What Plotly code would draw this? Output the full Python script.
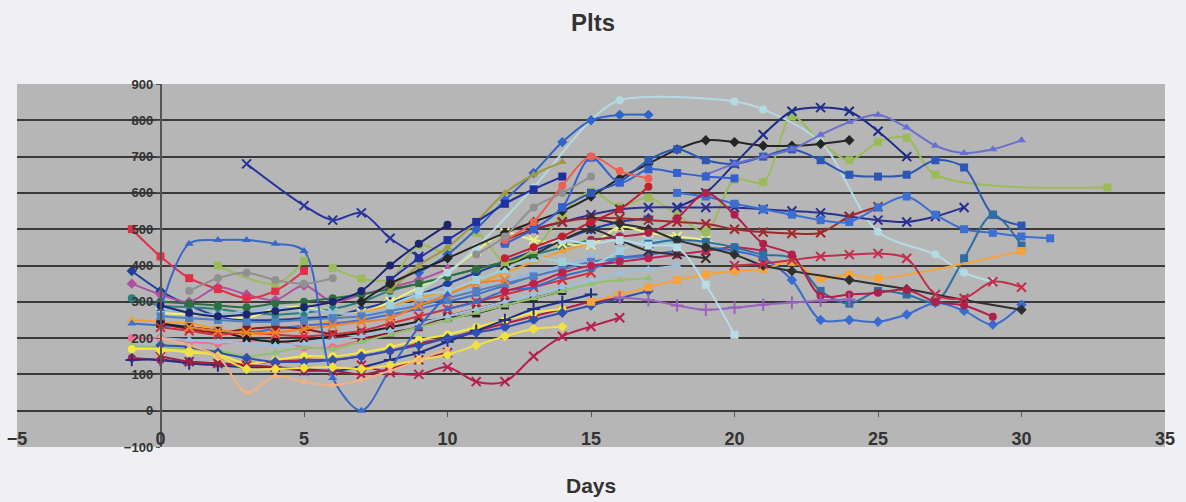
import plotly.graph_objects as go

# ---------------- data (day, platelet count) ----------------
# outlying / distinctive series
d01 = [3, 5, 6, 7, 8, 9]
v01 = [680, 565, 525, 545, 475, 425]
d02 = [-1, 0, 1, 2, 3, 4, 5]
v02 = [500, 425, 365, 335, 310, 330, 385]
d03 = [0, 1, 2, 3, 4, 5, 6, 7, 8, 9, 10]
v03 = [280, 460, 470, 470, 460, 440, 90, 0, 115, 230, 320]
d04 = [2, 4, 5]
v04 = [400, 350, 412]
d05 = [1, 2, 3, 4, 5, 6]
v05 = [330, 365, 380, 360, 350, 365]
d06 = [6, 7, 8, 9, 10, 11, 12, 13, 14, 15, 16, 17, 18, 19, 20, 21, 22, 23, 24, 25, 26, 27, 33]
v06 = [393, 364, 361, 457, 435, 490, 410, 443, 540, 604, 562, 587, 540, 493, 636, 630, 810, 740, 690, 740, 752, 650, 615]
d07 = [9, 10, 11, 13, 15, 16, 20, 21, 23, 25, 27, 28, 29]
v07 = [330, 380, 450, 615, 800, 855, 852, 830, 740, 493, 430, 380, 355]
d08 = [9, 10, 11, 12, 13, 14, 15, 16, 17]
v08 = [380, 430, 500, 580, 655, 740, 800, 815, 815]
d09 = [8, 9, 10, 11, 12, 13, 14]
v09 = [330, 400, 450, 520, 600, 650, 685]
d10 = [8, 9, 10, 11, 12, 13, 14]
v10 = [360, 420, 470, 520, 570, 610, 645]
d11 = [7, 8, 10, 12, 13, 14, 15, 16, 17, 18, 19, 20, 21, 22, 23, 24]
v11 = [300, 350, 420, 490, 520, 550, 590, 640, 680, 720, 745, 740, 730, 730, 735, 745]
d12 = [18, 19, 20, 21, 22, 23, 24, 25, 26]
v12 = [560, 600, 680, 760, 825, 835, 825, 770, 700]
d13 = [14, 15, 16, 17, 18, 19, 20, 21, 22, 23, 24, 25, 26, 27, 28, 29, 30]
v13 = [560, 600, 630, 690, 720, 690, 680, 700, 720, 690, 650, 645, 650, 690, 670, 540, 510]
d14 = [19, 20, 21, 22, 23, 24, 25, 26, 27, 28, 29, 30]
v14 = [650, 680, 700, 720, 760, 795, 815, 780, 730, 710, 720, 745]
d15 = [13, 14, 15, 16, 17, 18, 19, 20, 21, 22, 23, 24, 25, 26, 27, 28]
v15 = [500, 520, 540, 555, 560, 560, 560, 560, 555, 550, 545, 535, 525, 520, 535, 560]
d16 = [12, 13, 14, 15, 16, 17, 18, 19, 20, 21, 22, 23, 24, 25]
v16 = [470, 500, 520, 530, 530, 525, 520, 515, 500, 492, 488, 490, 535, 562]
d17 = [18, 19, 20, 21, 22, 23, 24, 25, 26, 27, 28, 29, 30, 31]
v17 = [600, 590, 570, 555, 540, 525, 520, 560, 590, 540, 500, 490, 480, 475]
d18 = [19, 20, 21, 22, 23, 24, 25, 26, 27, 28, 29, 30]
v18 = [450, 440, 420, 360, 250, 250, 245, 265, 297, 275, 237, 292]
d19 = [17, 18, 19, 20, 21, 22, 23, 24, 25, 26, 27, 28, 29, 30]
v19 = [460, 470, 465, 450, 430, 420, 330, 295, 330, 320, 300, 420, 540, 455]
d20 = [15, 16, 17, 18, 19, 20, 21, 22, 23, 24, 25, 30]
v20 = [300, 320, 340, 360, 375, 385, 390, 410, 365, 375, 365, 440]
d21 = [15, 16, 17, 18, 19, 20, 21, 22, 24, 26, 28, 30]
v21 = [530, 515, 500, 470, 450, 430, 400, 385, 360, 335, 305, 278]
d22 = [20, 21, 22, 23, 24, 25, 26, 27, 28, 29, 30]
v22 = [400, 405, 415, 425, 430, 433, 420, 320, 310, 355, 340]
d23 = [15, 16, 17, 18, 19, 20, 21, 22, 23, 24, 25, 26, 27, 28, 29]
v23 = [470, 480, 490, 530, 600, 540, 460, 430, 317, 320, 325, 333, 300, 290, 259]
d24 = [16, 17, 18, 19, 20, 21, 22, 23, 24]
v24 = [312, 305, 290, 278, 284, 292, 298, 303, 306]
d25 = [13, 14, 15, 16, 17, 18, 19, 20]
v25 = [450, 470, 460, 470, 455, 450, 347, 209]
d26 = [7, 8, 9, 10, 11, 12, 13, 14, 15, 16]
v26 = [125, 105, 100, 120, 80, 80, 150, 205, 232, 256]
d27 = [0, 1, 2, 3, 4, 5, 6, 7, 8, 9, 10, 11, 12, 13, 14]
v27 = [165, 165, 150, 115, 115, 118, 120, 115, 125, 140, 155, 180, 205, 225, 231]
d28 = [0, 1, 2, 3, 4, 5, 6, 7, 8, 9, 10]
v28 = [200, 180, 150, 50, 95, 80, 70, 85, 110, 140, 170]
d29 = [0, 1, 2, 3, 4, 5, 6, 7, 8, 9, 10]
v29 = [290, 270, 260, 265, 275, 285, 300, 330, 400, 460, 512]
d30 = [12, 13, 14, 15, 16, 17, 18, 19, 20]
v30 = [460, 500, 560, 697, 628, 665, 655, 645, 640]
d31 = [12, 13, 14, 15, 16, 17]
v31 = [470, 520, 620, 700, 660, 640]
d32 = [12, 13, 14, 15, 16, 17]
v32 = [420, 450, 480, 520, 555, 617]
d33 = [11, 12, 13, 14, 15]
v33 = [430, 480, 560, 600, 645]

# central band of series
b01_d = [-1, 0, 1, 2, 3, 4, 5, 6, 7, 8, 9, 10, 11, 12, 13, 14, 15, 16, 17]
b01_v = [385, 330, 290, 260, 250, 250, 255, 260, 280, 300, 320, 350, 380, 410, 440, 470, 500, 520, 530]
b02_d = [-1, 0, 1, 2, 3, 4, 5, 6, 7, 8, 9, 10]
b02_v = [350, 320, 300, 340, 320, 305, 345, 300, 320, 340, 360, 390]
b03_d = [-1, 0, 1, 2, 3, 4, 5, 6, 7, 8, 9, 10, 11, 12, 13, 14, 15, 16]
b03_v = [310, 290, 285, 280, 270, 265, 270, 280, 300, 330, 350, 370, 390, 410, 430, 450, 470, 480]
b04_d = [0, 1, 2, 3, 4, 5, 6, 7, 8, 9, 10, 11, 12, 13, 14, 15, 16, 17, 18, 19, 20]
b04_v = [270, 265, 262, 255, 282, 285, 270, 270, 300, 340, 380, 440, 490, 470, 460, 457, 507, 490, 480, 470, 440]
b05_d = [-1, 0, 1, 2, 3, 4, 5, 6, 7, 8, 9, 10, 11, 12, 13, 14, 15]
b05_v = [250, 245, 240, 225, 210, 215, 230, 250, 270, 290, 310, 330, 350, 380, 410, 440, 460]
b06_d = [-1, 0, 1, 2, 3, 4, 5, 6, 7, 8, 9, 10, 11, 12, 13, 14, 15, 16]
b06_v = [145, 140, 135, 130, 130, 135, 140, 140, 150, 165, 185, 200, 220, 240, 260, 280, 300, 310]
b07_d = [-1, 0, 1, 2, 3, 4, 5, 6, 7, 8, 9, 10, 11, 12]
b07_v = [200, 200, 190, 185, 190, 195, 175, 175, 195, 220, 240, 260, 280, 300]
b08_d = [-1, 0, 1, 2, 3, 4, 5, 6, 7, 8, 9, 10, 11, 12, 13, 14, 15, 16]
b08_v = [240, 235, 230, 220, 215, 225, 235, 240, 250, 265, 280, 300, 320, 345, 370, 390, 410, 420]
b09_d = [0, 1, 2, 3, 4, 5, 6, 7, 8, 9, 10, 11, 12]
b09_v = [240, 225, 215, 225, 230, 225, 210, 200, 215, 230, 260, 280, 300]
b10_d = [0, 1, 2, 3, 4, 5, 6, 7, 8, 9, 10, 11, 12, 13, 14]
b10_v = [240, 230, 220, 200, 190, 195, 205, 215, 230, 245, 255, 268, 290, 310, 330]
b11_d = [0, 1, 2, 3, 4, 5, 6, 7, 8, 9, 10, 11, 12, 13, 14, 15]
b11_v = [280, 270, 265, 275, 285, 280, 270, 265, 280, 300, 320, 340, 360, 380, 400, 420]
b12_d = [-1, 0, 1, 2, 3, 4, 5, 6, 7, 8, 9, 10, 11, 12, 13, 14, 15, 16, 17]
b12_v = [180, 175, 170, 165, 150, 160, 175, 170, 190, 210, 230, 250, 270, 290, 310, 330, 350, 360, 365]
b13_d = [-1, 0, 1, 2, 3, 4, 5, 6, 7, 8, 9, 10, 11, 12, 13, 14]
b13_v = [170, 170, 160, 155, 130, 140, 150, 150, 160, 175, 195, 210, 230, 250, 270, 280]
b14_d = [-1, 0, 1, 2, 3, 4, 5, 6, 7, 8, 9, 10, 11, 12, 13, 14, 15]
b14_v = [140, 140, 130, 125, 120, 120, 115, 110, 120, 140, 160, 190, 220, 250, 280, 300, 320]
b15_d = [0, 1, 2, 3, 4, 5, 6, 7, 8, 9, 10]
b15_v = [150, 135, 130, 125, 120, 110, 110, 100, 115, 140, 160]
b16_d = [0, 1, 2, 3, 4, 5, 6, 7, 8, 9, 10, 11, 12, 13, 14, 15, 16, 17]
b16_v = [260, 255, 250, 245, 245, 250, 255, 260, 275, 290, 310, 330, 350, 370, 390, 410, 420, 425]
b17_d = [0, 1, 2, 3, 4, 5, 6, 7, 8, 9, 10, 11, 12, 13, 14, 15]
b17_v = [230, 220, 210, 215, 210, 205, 210, 220, 240, 260, 280, 300, 320, 340, 360, 380]
b18_d = [0, 1, 2, 3, 4, 5, 6, 7, 8, 9, 10, 11, 12, 13, 14, 15, 16, 17, 18]
b18_v = [200, 195, 190, 185, 180, 185, 195, 205, 220, 240, 260, 280, 300, 320, 340, 360, 380, 390, 400]
b19_d = [1, 2, 3, 4, 5, 6, 7, 8, 9, 10, 11, 12]
b19_v = [230, 220, 215, 215, 225, 235, 245, 255, 290, 320, 350, 360]
b20_d = [0, 1, 2, 3, 4, 5, 6, 7, 8, 9, 10, 11, 12, 13, 14, 15, 16, 17]
b20_v = [180, 175, 160, 145, 135, 135, 140, 150, 165, 180, 200, 215, 230, 250, 270, 290, 310, 330]
b21_d = [8, 9, 10, 11, 12, 13, 14, 15, 16, 17, 18]
b21_v = [290, 320, 330, 360, 390, 420, 410, 400, 440, 470, 455]
b22_d = [10, 11, 12, 13, 14, 15, 16, 17, 18]
b22_v = [280, 300, 330, 340, 370, 390, 420, 430, 440]
b23_d = [12, 13, 14, 15, 16, 17, 18, 19, 20, 21]
b23_v = [330, 350, 380, 400, 410, 420, 430, 440, 450, 440]
b24_d = [12, 13, 14, 15, 16, 17, 18, 19]
b24_v = [400, 430, 470, 500, 470, 440, 430, 420]
b25_d = [0, 1, 2, 3, 4, 5, 6, 7, 8, 9, 10, 11, 12, 13]
b25_v = [300, 295, 290, 285, 295, 300, 310, 320, 335, 350, 370, 390, 410, 430]

# axis ticks
x_ticks = [-5, 0, 5, 10, 15, 20, 25, 30, 35]
y_ticks = [-100, 0, 100, 200, 300, 400, 500, 600, 700, 800, 900]

# ---------------- styles ----------------
band = [
    (b01_d, b01_v, "#1f3f9f", "diamond"),
    (b02_d, b02_v, "#b050a0", "diamond"),
    (b03_d, b03_v, "#2a7f7f", "circle"),
    (b04_d, b04_v, "#eef080", "x-thin"),
    (b05_d, b05_v, "#f0a030", "triangle-up"),
    (b06_d, b06_v, "#b0204a", "circle"),
    (b07_d, b07_v, "#f07090", "circle"),
    (b08_d, b08_v, "#4070d0", "triangle-up"),
    (b09_d, b09_v, "#8b1a1a", "square"),
    (b10_d, b10_v, "#202020", "square"),
    (b11_d, b11_v, "#90b8e8", "x-thin"),
    (b12_d, b12_v, "#90c070", "triangle-up"),
    (b13_d, b13_v, "#f5e840", "circle"),
    (b14_d, b14_v, "#20308a", "cross-thin"),
    (b15_d, b15_v, "#a02040", "x-thin"),
    (b16_d, b16_v, "#5080c0", "square"),
    (b17_d, b17_v, "#d03040", "x-thin"),
    (b18_d, b18_v, "#9ac0e0", "triangle-up"),
    (b19_d, b19_v, "#f08030", "x-thin"),
    (b20_d, b20_v, "#3050b0", "diamond"),
    (b21_d, b21_v, "#a0d0dc", "square"),
    (b22_d, b22_v, "#3a6cc8", "triangle-up"),
    (b23_d, b23_v, "#c02050", "circle"),
    (b24_d, b24_v, "#303030", "x-thin"),
    (b25_d, b25_v, "#2f6f3f", "circle"),
]
outliers = [
    (d01, v01, "#27349a", "x-thin"),
    (d02, v02, "#e0304a", "square"),
    (d03, v03, "#3a68c8", "triangle-up"),
    (d04, v04, "#9bbb59", "square"),
    (d05, v05, "#909090", "circle"),
    (d06, v06, "#9bbb59", "square"),
    (d07, v07, "#b4dae4", "circle"),
    (d08, v08, "#2f65c8", "diamond"),
    (d09, v09, "#a09a40", "triangle-up"),
    (d10, v10, "#2030a0", "square"),
    (d11, v11, "#252525", "diamond"),
    (d12, v12, "#1f2d8a", "x-thin"),
    (d13, v13, "#2d56b5", "square"),
    (d14, v14, "#6a70d0", "triangle-up"),
    (d15, v15, "#2b2f8f", "x-thin"),
    (d16, v16, "#a0282a", "x-thin"),
    (d17, v17, "#3d6fd0", "square"),
    (d18, v18, "#3a6bd0", "diamond"),
    (d19, v19, "#2e6ea0", "square"),
    (d20, v20, "#f5a33a", "square"),
    (d21, v21, "#303030", "diamond"),
    (d22, v22, "#c0304d", "x-thin"),
    (d23, v23, "#b0204a", "circle"),
    (d24, v24, "#9a62c0", "cross-thin"),
    (d25, v25, "#b8dce6", "square"),
    (d26, v26, "#b5204d", "x-thin"),
    (d27, v27, "#f0e040", "diamond"),
    (d28, v28, "#f4b080", "circle"),
    (d29, v29, "#1d2570", "circle"),
    (d30, v30, "#3560d0", "square"),
    (d31, v31, "#f06050", "circle"),
    (d32, v32, "#c02030", "circle"),
    (d33, v33, "#909090", "circle"),
]

FONT = "Liberation Sans, Arial, sans-serif"

fig = go.Figure()
for d, v, col, sym in band + outliers:
    thin = sym.endswith("-thin")
    size = 5 if col == "#f4b080" else 8
    fig.add_trace(go.Scatter(
        x=d, y=v, mode="lines+markers",
        line=dict(color=col, width=2, shape="spline", smoothing=0.9),
        marker=dict(symbol=sym, size=size if not thin else 9, color=col,
                    line=dict(color=col, width=2 if thin else 0)),
        showlegend=False, hoverinfo="skip",
    ))

# invisible trace carrying the tick-mark axis that sits on y = 0
fig.add_trace(go.Scatter(x=[x_ticks[0], x_ticks[-1]], y=[0, 0], xaxis="x2",
                         mode="lines", line=dict(width=0), showlegend=False,
                         hoverinfo="skip"))

fig.update_layout(
    width=1186, height=502,
    margin=dict(l=17, r=21, t=84, b=55),
    paper_bgcolor="#f0f0f4",
    plot_bgcolor="#b6b6b6",
    font=dict(family=FONT, color="#333333"),
    title=dict(text="<b>Plts</b>", x=0.5, xanchor="center", y=0.955, yanchor="middle",
               font=dict(size=24, color="#333333")),
    xaxis=dict(range=[-5, 35], tickvals=x_ticks, showgrid=False, zeroline=False,
               showline=False, ticks="", anchor="free", position=0.058,
               tickfont=dict(size=18, color="#333333", family=FONT, weight="bold"),
               automargin=False),
    xaxis2=dict(overlaying="x", matches="x", anchor="free", position=0.1,
                tickvals=x_ticks[1:-1], ticks="outside", ticklen=5, tickcolor="#555555",
                showticklabels=False, showgrid=False, zeroline=False, showline=False),
    yaxis=dict(range=[-100, 900], tickvals=y_ticks, anchor="free", position=0.125,
               showgrid=True, gridcolor="#3a3a3a", gridwidth=1.5,
               zeroline=True, zerolinecolor="#3a3a3a", zerolinewidth=1.5,
               showline=True, linecolor="#555555", linewidth=1.5,
               ticks="outside", ticklen=4, tickcolor="#555555",
               tickfont=dict(size=13, color="#333333", family=FONT, weight="bold"),
               automargin=False),
    annotations=[dict(text="<b>Days</b>", x=0.5, xref="paper", y=-0.105, yref="paper",
                      xanchor="center", yanchor="middle", showarrow=False,
                      font=dict(size=21, color="#333333"))],
)

fig.write_html("out.html")
